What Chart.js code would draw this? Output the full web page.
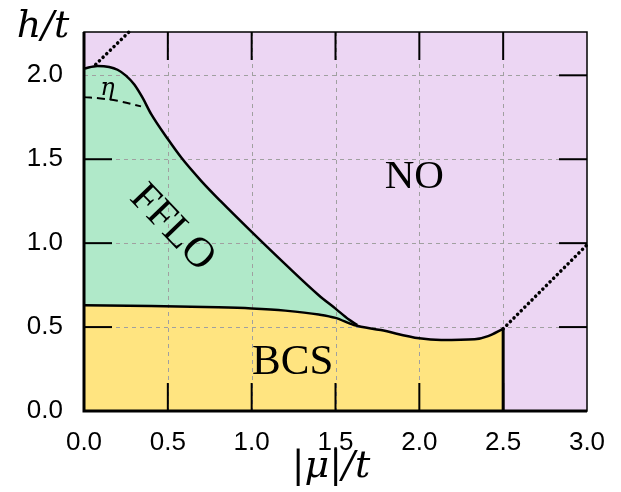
<!DOCTYPE html>
<html><head><meta charset="utf-8">
<script src="https://cdn.jsdelivr.net/npm/chart.js@4/dist/chart.umd.min.js"></script>
<style>html,body{margin:0;padding:0;background:#fff;}#wrap{width:621px;height:492px;position:relative;}</style>
</head><body><div id="wrap"><canvas id="c" width="621" height="492"></canvas></div>
<script>
// ---- data ----
const xTicks = [0.0, 0.5, 1.0, 1.5, 2.0, 2.5, 3.0];
const yTicks = [0.0, 0.5, 1.0, 1.5, 2.0];
const ffloMu = [0, 0.08, 0.15, 0.2, 0.25, 0.3, 0.35, 0.4, 0.5, 0.58, 0.7, 0.815, 1.0, 1.2, 1.4, 1.5, 1.58, 1.63];
const ffloH  = [2.04, 2.056, 2.05, 2.033, 1.998, 1.945, 1.865, 1.77, 1.62, 1.51, 1.37, 1.25, 1.067, 0.875, 0.69, 0.61, 0.545, 0.512];
const bcsMu = [0, 0.4, 0.8, 1.0, 1.2, 1.4, 1.5, 1.61, 1.77, 2.0, 2.13, 2.33, 2.41, 2.5];
const bcsH  = [0.63, 0.625, 0.618, 0.611, 0.598, 0.575, 0.555, 0.512, 0.482, 0.433, 0.423, 0.427, 0.446, 0.49];
const etaMu = [0, 0.1, 0.2, 0.34];
const etaH  = [1.87, 1.862, 1.848, 1.815];
const dotTopMu = [0.07, 0.27];
const dotTopH  = [2.065, 2.26];
const dotRightMu = [2.5, 3.0];
const dotRightH  = [0.49, 0.99];
const edgeMu = [2.5, 2.5];
const edgeH  = [0.0, 0.49];
const regionLabels = [
  {text: 'NO', mu: 1.97, h: 1.39, rot: 0, size: 41},
  {text: 'BCS', mu: 1.245, h: 0.29, rot: 0, size: 43},
  {text: 'FFLO', mu: 0.525, h: 1.09, rot: 46, size: 42}
];
const etaLabel = {text: 'η', mu: 0.14, h: 1.92};
const xTitle = '|μ|/t';
const yTitle = 'h/t';

const pts = (xs, ys) => xs.map((x, i) => ({x: x, y: ys[i]}));
const PURPLE = 'rgb(236,214,243)', GREEN = 'rgb(176,233,201)', YELLOW = 'rgb(255,228,128)';

const custom = {
  id: 'custom',
  beforeDraw(chart) {
    const {ctx, chartArea: a} = chart;
    ctx.save();
    ctx.fillStyle = '#fff';
    ctx.fillRect(0, 0, chart.width, chart.height);
    ctx.fillStyle = PURPLE;
    ctx.fillRect(a.left, a.top, a.right - a.left, a.bottom - a.top);
    ctx.restore();
  },
  beforeDatasetsDraw(chart) {
    const {ctx, chartArea: a, scales: {x, y}} = chart;
    ctx.save();
    ctx.strokeStyle = 'rgb(160,160,160)';
    ctx.lineWidth = 1;
    ctx.setLineDash([4, 4]);
    xTicks.forEach(v => { if (v <= 0 || v >= 3) return; const px = Math.round(x.getPixelForValue(v)) + 0.5;
      ctx.beginPath(); ctx.moveTo(px, a.top); ctx.lineTo(px, a.bottom); ctx.stroke(); });
    yTicks.forEach(v => { if (v <= 0) return; const py = Math.round(y.getPixelForValue(v)) + 0.5;
      ctx.beginPath(); ctx.moveTo(a.left, py); ctx.lineTo(a.right, py); ctx.stroke(); });
    ctx.restore();
  },
  afterDatasetsDraw(chart) {
    const {ctx, chartArea: a, scales: {x, y}} = chart;
    ctx.save();
    ctx.strokeStyle = '#000';
    ctx.setLineDash([]);
    const T = 28;
    ctx.lineWidth = 2;
    xTicks.forEach(v => { if (v <= 0 || v >= 3) return; const px = x.getPixelForValue(v);
      ctx.beginPath(); ctx.moveTo(px, a.bottom); ctx.lineTo(px, a.bottom - T); ctx.stroke();
      ctx.beginPath(); ctx.moveTo(px, a.top); ctx.lineTo(px, a.top + T); ctx.stroke(); });
    yTicks.forEach(v => { if (v <= 0) return; const py = y.getPixelForValue(v);
      if (v < 2) { ctx.beginPath(); ctx.moveTo(a.left, py); ctx.lineTo(a.left + T, py); ctx.stroke(); }
      ctx.beginPath(); ctx.moveTo(a.right, py); ctx.lineTo(a.right - T, py); ctx.stroke(); });
    // frame
    ctx.lineWidth = 1.5;
    ctx.strokeRect(a.left, a.top, a.right - a.left, a.bottom - a.top);
    ctx.lineWidth = 3;
    ctx.beginPath(); ctx.moveTo(a.left, a.top); ctx.lineTo(a.left, a.bottom); ctx.lineTo(a.right, a.bottom); ctx.stroke();
    // region labels
    ctx.fillStyle = '#000';
    ctx.textAlign = 'center'; ctx.textBaseline = 'middle';
    regionLabels.forEach(l => {
      ctx.save();
      ctx.translate(x.getPixelForValue(l.mu), y.getPixelForValue(l.h));
      ctx.rotate(l.rot * Math.PI / 180);
      ctx.font = l.size + 'px "Liberation Serif", "DejaVu Serif", serif';
      ctx.fillText(l.text, 0, 0);
      ctx.restore();
    });
    ctx.font = 'italic 24px "DejaVu Serif", serif';
    ctx.fillText(etaLabel.text, x.getPixelForValue(etaLabel.mu), y.getPixelForValue(etaLabel.h));
    // axis titles
    ctx.font = 'italic 38px "DejaVu Serif", serif';
    ctx.fillText(yTitle, 43, 27);
    ctx.fillText(xTitle, 331, 467);
    ctx.restore();
  }
};

new Chart(document.getElementById('c'), {
  type: 'line',
  data: {
    datasets: [
      {data: pts(bcsMu, bcsH), borderColor: '#000', borderWidth: 2.5, backgroundColor: YELLOW, fill: 'origin', pointRadius: 0, cubicInterpolationMode: 'monotone'},
      {data: pts(ffloMu, ffloH), borderColor: '#000', borderWidth: 2.5, backgroundColor: GREEN, fill: 'origin', pointRadius: 0, cubicInterpolationMode: 'monotone'},
      {data: pts(edgeMu, edgeH), borderColor: '#000', borderWidth: 3, fill: false, pointRadius: 0},
      {data: pts(etaMu, etaH), borderColor: '#000', borderWidth: 2, borderDash: [8, 5], fill: false, pointRadius: 0, tension: 0.4},
      {data: pts(dotTopMu, dotTopH), borderColor: '#000', borderWidth: 3.5, borderDash: [0.1, 5], borderCapStyle: 'round', fill: false, pointRadius: 0},
      {data: pts(dotRightMu, dotRightH), borderColor: '#000', borderWidth: 3.5, borderDash: [0.1, 5], borderCapStyle: 'round', fill: false, pointRadius: 0}
    ]
  },
  options: {
    responsive: false,
    animation: false,
    clip: false,
    layout: {padding: {top: 32, right: 34, left: 0, bottom: 0}},
    plugins: {legend: {display: false}, tooltip: {enabled: false}, filler: {drawTime: 'beforeDatasetsDraw'}},
    scales: {
      x: {type: 'linear', min: 0, max: 3.0,
        grid: {display: false}, border: {display: false},
        afterFit: s => { s.height = 81; },
        afterBuildTicks: s => { s.ticks = xTicks.map(v => ({value: v})); },
        ticks: {padding: 8, color: '#000', maxRotation: 0, font: {family: '"Liberation Sans", Arial, sans-serif', size: 26}, callback: v => Number(v).toFixed(1)}},
      y: {type: 'linear', min: 0, max: 2.258,
        grid: {display: false}, border: {display: false},
        afterFit: s => { s.width = 84; },
        afterBuildTicks: s => { s.ticks = yTicks.map(v => ({value: v})); },
        ticks: {padding: 13, color: '#000', font: {family: '"Liberation Sans", Arial, sans-serif', size: 26}, callback: v => Number(v).toFixed(1)}}
    }
  },
  plugins: [custom]
});
</script></body></html>
